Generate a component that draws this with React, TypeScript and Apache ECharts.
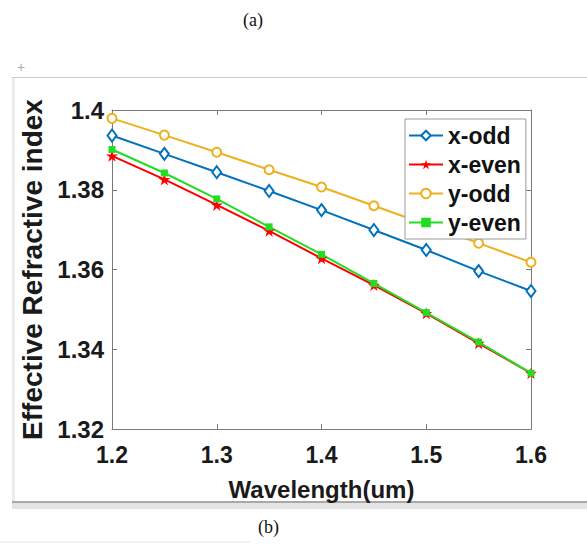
import React, { useEffect, useRef } from "react";
import * as echarts from "echarts";

const wavelengths = [1.2, 1.25, 1.3, 1.35, 1.4, 1.45, 1.5, 1.55, 1.6];
const xOdd = [1.3936, 1.389, 1.3844, 1.3797, 1.3749, 1.3699, 1.3649, 1.3596, 1.3546];
const xEven = [1.3885, 1.3826, 1.3762, 1.3697, 1.3628, 1.3561, 1.349, 1.3415, 1.334];
const yOdd = [1.3979, 1.3937, 1.3894, 1.385, 1.3807, 1.376, 1.3713, 1.3666, 1.3618];
const yEven = [1.3901, 1.3842, 1.3777, 1.3707, 1.3638, 1.3565, 1.3492, 1.3418, 1.334];
const seriesNames = ["x-odd", "x-even", "y-odd", "y-even"];

const STAR =
  "path://M0,-10 L2.245,-3.09 L9.51,-3.09 L3.633,1.18 L5.88,8.09 L0,3.82 L-5.88,8.09 L-3.633,1.18 L-9.51,-3.09 L-2.245,-3.09 Z";

const FONT = "'Liberation Sans', Arial, Helvetica, sans-serif";
const AXIS_COLOR = "#7a7a7a";

function pairs(ys: number[]) {
  return wavelengths.map((x, i) => [x, ys[i]]);
}

export default function App() {
  const ref = useRef<HTMLDivElement>(null);

  useEffect(() => {
    if (!ref.current) return;
    const chart = echarts.init(ref.current, null, { renderer: "svg" });
    const axisLine = { show: true, lineStyle: { color: AXIS_COLOR, width: 1 } };
    const axisTick = { show: true, inside: true, length: 5, lineStyle: { color: AXIS_COLOR } };
    const fmtY = (v: number) => String(parseFloat(v.toFixed(2)));
    chart.setOption({
      animation: false,
      backgroundColor: "#ffffff",
      grid: { left: 112, top: 110, width: 419, height: 319, containLabel: false },
      legend: {
        orient: "vertical",
        left: 405,
        top: 119,
        padding: [5, 5, 5, 3],
        itemGap: 6,
        itemWidth: 34,
        itemHeight: 12,
        backgroundColor: "#ffffff",
        borderColor: "#9a9a9a",
        borderWidth: 1,
        data: seriesNames,
        textStyle: { fontFamily: FONT, fontWeight: "bold", fontSize: 23, color: "#111" },
      },
      xAxis: [
        {
          type: "value",
          min: 1.2,
          max: 1.6,
          interval: 0.1,
          position: "bottom",
          axisLine,
          axisTick,
          splitLine: { show: false },
          axisLabel: {
            margin: 14,
            fontFamily: FONT,
            fontWeight: "bold",
            fontSize: 23,
            color: "#1a1a1a",
            formatter: (v: number) => v.toFixed(1),
          },
          name: "Wavelength(um)",
          nameLocation: "middle",
          nameGap: 48,
          nameTextStyle: { fontFamily: FONT, fontWeight: "bold", fontSize: 24, color: "#1a1a1a" },
        },
        {
          type: "value",
          min: 1.2,
          max: 1.6,
          interval: 0.1,
          position: "top",
          axisLine,
          axisTick,
          splitLine: { show: false },
          axisLabel: { show: false },
        },
      ],
      yAxis: [
        {
          type: "value",
          min: 1.32,
          max: 1.4,
          interval: 0.02,
          position: "left",
          axisLine,
          axisTick,
          splitLine: { show: false },
          axisLabel: {
            margin: 8,
            fontFamily: FONT,
            fontWeight: "bold",
            fontSize: 24,
            color: "#1a1a1a",
            formatter: fmtY,
          },
          name: "Effective Refractive index",
          nameLocation: "middle",
          nameGap: 64,
          nameTextStyle: { fontFamily: FONT, fontWeight: "bold", fontSize: 28, color: "#1a1a1a" },
        },
        {
          type: "value",
          min: 1.32,
          max: 1.4,
          interval: 0.02,
          position: "right",
          axisLine,
          axisTick,
          splitLine: { show: false },
          axisLabel: { show: false },
        },
      ],
      series: [
        {
          name: "x-odd",
          type: "line",
          data: pairs(xOdd),
          color: "#0072BD",
          symbol: "emptyDiamond",
          symbolSize: [9, 12],
          lineStyle: { color: "#0072BD", width: 2 },
          itemStyle: { color: "#0072BD", borderColor: "#0072BD", borderWidth: 1.5 },
        },
        {
          name: "x-even",
          type: "line",
          data: pairs(xEven),
          color: "#FF0000",
          symbol: STAR,
          symbolSize: 12,
          lineStyle: { color: "#FF0000", width: 2 },
          itemStyle: { color: "#FF0000" },
        },
        {
          name: "y-odd",
          type: "line",
          data: pairs(yOdd),
          color: "#EDB120",
          symbol: "emptyCircle",
          symbolSize: 9,
          lineStyle: { color: "#EDB120", width: 2 },
          itemStyle: { color: "#EDB120", borderColor: "#EDB120", borderWidth: 1.5 },
        },
        {
          name: "y-even",
          type: "line",
          data: pairs(yEven),
          color: "#22DD22",
          symbol: "rect",
          symbolSize: 7,
          lineStyle: { color: "#22DD22", width: 2 },
          itemStyle: { color: "#22DD22" },
        },
      ],
      graphic: [
        {
          type: "text",
          left: 243,
          top: 11,
          style: { text: "(a)", fontFamily: "'Liberation Serif', 'Times New Roman', serif", fontSize: 18, fill: "#111" },
        },
        {
          type: "text",
          left: 258,
          top: 518,
          style: { text: "(b)", fontFamily: "'Liberation Serif', 'Times New Roman', serif", fontSize: 18, fill: "#111" },
        },
        {
          type: "text",
          left: 17,
          top: 60,
          style: { text: "+", fontFamily: FONT, fontSize: 14, fill: "#aaaaaa" },
        },
        {
          type: "line",
          shape: { x1: 12, y1: 77.5, x2: 587, y2: 77.5 },
          style: { stroke: "#cccccc", lineWidth: 1 },
        },
        {
          type: "line",
          shape: { x1: 13.5, y1: 78, x2: 13.5, y2: 502 },
          style: { stroke: "#ececec", lineWidth: 3 },
        },
        {
          type: "rect",
          shape: { x: 12, y: 502, width: 575, height: 7 },
          style: { fill: "#e4e4e4" },
        },
        {
          type: "line",
          shape: { x1: 12, y1: 502, x2: 587, y2: 502 },
          style: { stroke: "#a8a8a8", lineWidth: 2 },
        },
        {
          type: "line",
          shape: { x1: 0, y1: 542, x2: 250, y2: 542 },
          style: { stroke: "#f2f2f2", lineWidth: 2 },
        },
      ],
    });
    return () => chart.dispose();
  }, []);

  return (
    <div
      ref={ref}
      style={{ position: "fixed", left: 0, top: 0, width: 587, height: 555, background: "#fff" }}
    />
  );
}
